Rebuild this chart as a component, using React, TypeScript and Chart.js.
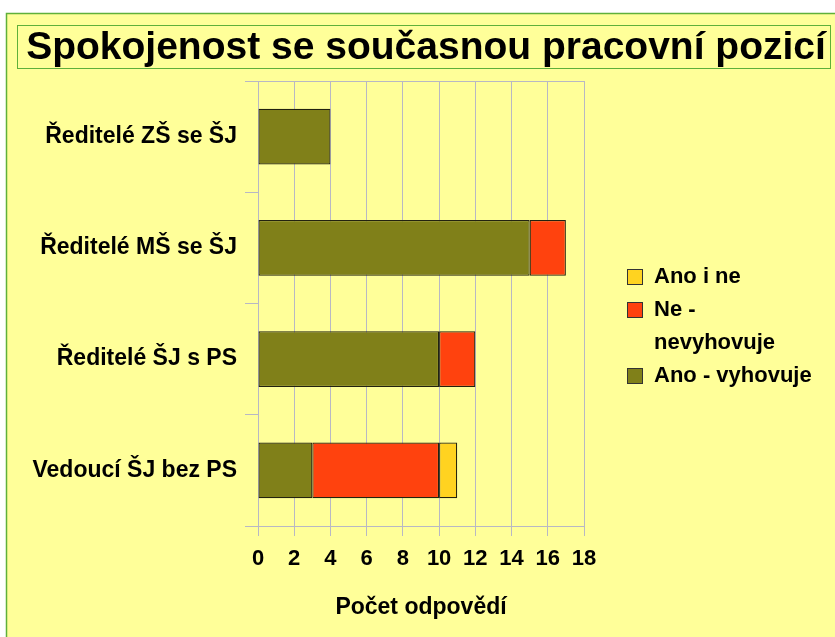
import React, { useEffect, useRef } from "react";
import { Chart, registerables } from "chart.js";

Chart.register(...registerables);

const categories = ["Ředitelé ZŠ se ŠJ", "Ředitelé MŠ se ŠJ", "Ředitelé ŠJ s PS", "Vedoucí ŠJ bez PS"];
const anoVyhovuje = [4, 15, 10, 3];
const neNevyhovuje = [0, 2, 2, 7];
const anoINe = [0, 0, 0, 1];
const seriesNames = ["Ano - vyhovuje", "Ne - nevyhovuje", "Ano i ne"];
const seriesColors = ["#808019", "#ff420e", "#ffd320"];
const xMin = 0;
const xMax = 18;
const xStep = 2;
const chartTitle = "Spokojenost se současnou pracovní pozicí";
const axisTitle = "Počet odpovědí";

const FONT = "'Liberation Sans', Arial, sans-serif";
const GRID = "#b8b8c4";
const GREEN = "#5fb03a";

const decorPlugin = {
  id: "decor",
  beforeDraw(chart: any) {
    const { ctx, width, height } = chart;
    ctx.save();
    ctx.fillStyle = "#ffffff";
    ctx.fillRect(0, 0, width, height);
    ctx.fillStyle = "#ffff99";
    ctx.fillRect(6, 13, width, height);
    ctx.strokeStyle = GREEN;
    ctx.lineWidth = 1.5;
    ctx.beginPath();
    ctx.moveTo(6.5, height + 5);
    ctx.lineTo(6.5, 13.5);
    ctx.lineTo(width + 5, 13.5);
    ctx.stroke();
    // title box
    ctx.lineWidth = 1;
    ctx.strokeRect(17.5, 25.5, 813, 43);
    ctx.fillStyle = "#000";
    ctx.font = `bold 39px ${FONT}`;
    ctx.textAlign = "center";
    ctx.textBaseline = "middle";
    ctx.fillText(chartTitle, 426, 48);
    ctx.restore();
  },
  afterDraw(chart: any) {
    const { ctx, chartArea } = chart;
    ctx.save();
    // top border of plot
    ctx.strokeStyle = GRID;
    ctx.lineWidth = 1;
    ctx.beginPath();
    ctx.moveTo(chartArea.left, Math.round(chartArea.top) + 0.5);
    ctx.lineTo(chartArea.right, Math.round(chartArea.top) + 0.5);
    ctx.stroke();
    // legend
    const ds = chart.data.datasets;
    const lx = 627;
    const tx = 654;
    const lh = 33;
    let y = 277;
    ctx.font = `bold 22px ${FONT}`;
    ctx.textAlign = "left";
    ctx.textBaseline = "middle";
    for (let i = ds.length - 1; i >= 0; i--) {
      const words = String(ds[i].label).split(" ");
      const lines: string[] = [];
      let cur = "";
      for (const w of words) {
        const t = cur ? cur + " " + w : w;
        if (ctx.measureText(t).width > 160 && cur) {
          lines.push(cur);
          cur = w;
        } else cur = t;
      }
      lines.push(cur);
      ctx.fillStyle = ds[i].backgroundColor;
      ctx.fillRect(lx, y - 8, 15, 15);
      ctx.strokeStyle = "#333";
      ctx.lineWidth = 1;
      ctx.strokeRect(lx + 0.5, y - 7.5, 15, 15);
      ctx.fillStyle = "#000";
      lines.forEach((ln, k) => ctx.fillText(ln, tx, y + k * lh));
      y += lines.length * lh;
    }
    ctx.restore();
  },
};

export default function App() {
  const ref = useRef<HTMLCanvasElement>(null);
  useEffect(() => {
    if (!ref.current) return;
    const values = [anoVyhovuje, neNevyhovuje, anoINe];
    const chart = new Chart(ref.current, {
      type: "bar",
      data: {
        labels: categories,
        datasets: values.map((v, i) => ({
          label: seriesNames[i],
          data: v,
          backgroundColor: seriesColors[i],
          borderColor: "#22220f",
          borderWidth: 1.2,
          borderSkipped: false,
          barPercentage: 0.5,
          categoryPercentage: 1,
        })),
      },
      options: {
        indexAxis: "y",
        animation: false,
        responsive: false,
        maintainAspectRatio: false,
        layout: { padding: { top: 81, right: 251, left: 0, bottom: 0 } },
        plugins: {
          legend: { display: false },
          title: { display: false },
          tooltip: { enabled: false },
        },
        scales: {
          x: {
            stacked: true,
            min: xMin,
            max: xMax,
            ticks: {
              stepSize: xStep,
              color: "#000",
              font: { family: FONT, size: 22, weight: "bold" },
              padding: 10,
            },
            grid: { color: GRID, tickLength: 10, drawTicks: true },
            border: { color: GRID },
            title: {
              display: true,
              text: axisTitle,
              color: "#000",
              font: { family: FONT, size: 23, weight: "bold" },
              padding: { top: 0, bottom: 16 },
            },
            afterFit(scale: any) {
              scale.height = 111;
            },
          },
          y: {
            stacked: true,
            ticks: {
              color: "#000",
              font: { family: FONT, size: 23, weight: "bold" },
              padding: 8,
            },
            grid: { offset: true, drawOnChartArea: false, color: GRID, tickLength: 13 },
            border: { display: false },
            afterFit(scale: any) {
              scale.width = 258;
            },
          },
        },
      },
      plugins: [decorPlugin],
    });
    return () => chart.destroy();
  }, []);
  return (
    <div style={{ position: "absolute", left: 0, top: 0, width: 835, height: 637 }}>
      <canvas ref={ref} width={835} height={637} style={{ display: "block" }} />
    </div>
  );
}
